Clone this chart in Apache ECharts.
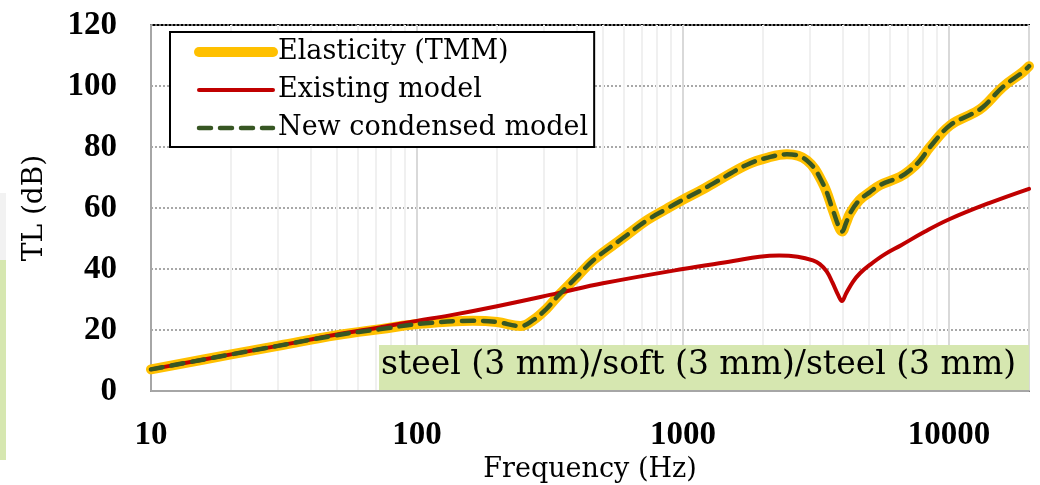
<!DOCTYPE html>
<html>
<head>
<meta charset="utf-8">
<script src="https://cdn.jsdelivr.net/npm/echarts@6/dist/echarts.min.js"></script>
<style>
  html, body { margin: 0; padding: 0; background: #fff; }
  #chart { width: 1040px; height: 485px; }
</style>
</head>
<body>
<div id="chart"></div>
<script>
// 频率 (Hz) 与传声损失 (dB)
const existingFreq = [10, 20, 30, 50, 73, 100, 133, 200, 336, 500, 1000, 1545, 1940, 2300, 2700, 3080, 3270, 3470, 3650, 3830, 3960, 4105, 4355, 4630, 5050, 5730, 6610, 8100, 10030, 14150, 20000];
const existingTL = [7.1, 12, 14.8, 18.5, 20.9, 23, 24.8, 27.8, 32, 35.3, 40, 42.6, 44, 44.4, 44, 42.8, 41.6, 39.2, 35.5, 31.5, 29.5, 32, 35.8, 38.6, 41.4, 44.8, 47.8, 52.2, 56.3, 61.6, 66.3];

const elasticFreq = [10, 20, 30, 50, 73, 105, 162, 200, 245, 273, 308, 336, 400, 459, 600, 733, 863, 975, 1159, 1297, 1741, 2100, 2460, 2924, 3359, 3665, 3850, 3963, 4100, 4250, 4600, 5047, 5506, 6544, 7136, 7785, 8486, 10100, 12300, 13430, 15950, 18970, 20000];
const elasticTL = [7.1, 12, 14.8, 18.3, 20.3, 22.1, 23, 22.6, 21.3, 23.2, 27.1, 30.8, 37.5, 42.8, 50.4, 56, 59.6, 62.2, 65.6, 68, 74.2, 76.6, 77.6, 75.6, 68, 59.2, 54, 52.3, 55, 58.3, 62.5, 65.2, 67.5, 70.2, 72.4, 75.6, 80, 87.1, 91, 93.1, 99.7, 104.6, 106.5];

// 新模型与弹性模型几乎重合
const condensedTL = elasticTL.slice();

const minorFreq = [20, 30, 40, 50, 60, 70, 80, 90, 200, 300, 400, 500, 600, 700, 800, 900, 2000, 3000, 4000, 5000, 6000, 7000, 8000, 9000];
const seriesNames = ['Elasticity (TMM)', 'Existing model', 'New condensed model'];
const noteText = 'steel (3 mm)/soft (3 mm)/steel (3 mm)';

const zip = (xs, ys) => xs.map((x, i) => [x, ys[i]]);
const serif = '"DejaVu Serif", serif';
const boldSerif = '"Liberation Serif", serif';

const chart = echarts.init(document.getElementById('chart'), null, { renderer: 'canvas' });
chart.setOption({
  animation: false,
  grid: {
    left: 151, right: 11, top: 25, bottom: 94,
    outerBoundsMode: 'none',
    show: true, borderColor: '#000', borderWidth: 2
  },
  legend: {
    orient: 'vertical',
    left: 170, top: 32,
    padding: [5, 6, 4, 24],
    backgroundColor: '#fff',
    borderColor: '#000',
    borderWidth: 2,
    itemWidth: 74,
    itemHeight: 14,
    itemGap: 8,
    itemStyle: { opacity: 0 },
    textStyle: { fontFamily: serif, fontSize: 27, color: '#000', lineHeight: 30 },
    data: [
      { name: seriesNames[0], lineStyle: { width: 10, color: '#FFC000', cap: 'round' } },
      { name: seriesNames[1], lineStyle: { width: 4, color: '#C00000', cap: 'round' } },
      { name: seriesNames[2], lineStyle: { width: 4.5, color: '#375623', type: [12, 9], cap: 'round' } }
    ]
  },
  xAxis: {
    type: 'log',
    logBase: 10,
    min: 10,
    max: 20000,
    name: 'Frequency (Hz)',
    nameLocation: 'middle',
    nameGap: 58,
    nameTextStyle: { fontFamily: serif, fontSize: 27, color: '#000' },
    axisLine: { lineStyle: { color: '#a6a6a6', width: 2 } },
    axisTick: { show: false },
    axisLabel: {
      margin: 28,
      fontFamily: boldSerif, fontSize: 33, fontWeight: 'bold', color: '#000',
      showMaxLabel: false,
      formatter: v => String(Math.round(v))
    },
    splitLine: { show: true, lineStyle: { color: '#d9d9d9', width: 2 } }
  },
  yAxis: {
    type: 'value',
    min: 0, max: 120, interval: 20,
    name: 'TL (dB)',
    nameLocation: 'middle',
    nameGap: 102,
    nameTextStyle: { fontFamily: serif, fontSize: 28, color: '#000' },
    axisLine: { show: true, lineStyle: { color: '#a6a6a6', width: 2 } },
    axisTick: { show: false },
    axisLabel: { margin: 34, fontFamily: boldSerif, fontSize: 33, fontWeight: 'bold', color: '#000' },
    splitLine: { show: true, lineStyle: { color: '#8c8c8c', width: 1.5, type: [2, 2] } }
  },
  series: [
    {
      name: seriesNames[0],
      type: 'line',
      data: zip(elasticFreq, elasticTL),
      smooth: 0.4,
      symbol: 'none',
      lineStyle: { width: 10, color: '#FFC000', cap: 'round', join: 'round' },
      itemStyle: { color: '#FFC000' },
      // 对数轴次网格线
      markLine: {
        silent: true,
        symbol: 'none',
        label: { show: false },
        lineStyle: { color: '#f0f0f0', width: 2, type: 'solid' },
        data: minorFreq.map(f => ({ xAxis: f })),
        z: 0
      },
      z: 2
    },
    {
      name: seriesNames[1],
      type: 'line',
      data: zip(existingFreq, existingTL),
      smooth: 0.4,
      symbol: 'none',
      lineStyle: { width: 4, color: '#C00000', cap: 'round', join: 'round' },
      itemStyle: { color: '#C00000' },
      z: 3
    },
    {
      name: seriesNames[2],
      type: 'line',
      data: zip(elasticFreq, condensedTL),
      smooth: 0.4,
      symbol: 'none',
      lineStyle: { width: 4.5, color: '#375623', type: [12, 9], cap: 'round', join: 'round' },
      itemStyle: { color: '#375623' },
      z: 4
    }
  ],
  graphic: [
    { type: 'rect', left: 0, top: 193, shape: { width: 6, height: 67 }, style: { fill: '#f2f2f2' } },
    { type: 'rect', left: 0, top: 260, shape: { width: 6, height: 200 }, style: { fill: '#d6e7b0' } },
    {
      type: 'rect', left: 379, top: 345, z: 10,
      shape: { width: 650, height: 45 },
      style: { fill: '#d6e7b0' }
    },
    {
      type: 'text', left: 381, top: 349, z: 11,
      style: { text: noteText, font: '33px ' + serif, fill: '#000' }
    }
  ]
});
</script>
</body>
</html>
